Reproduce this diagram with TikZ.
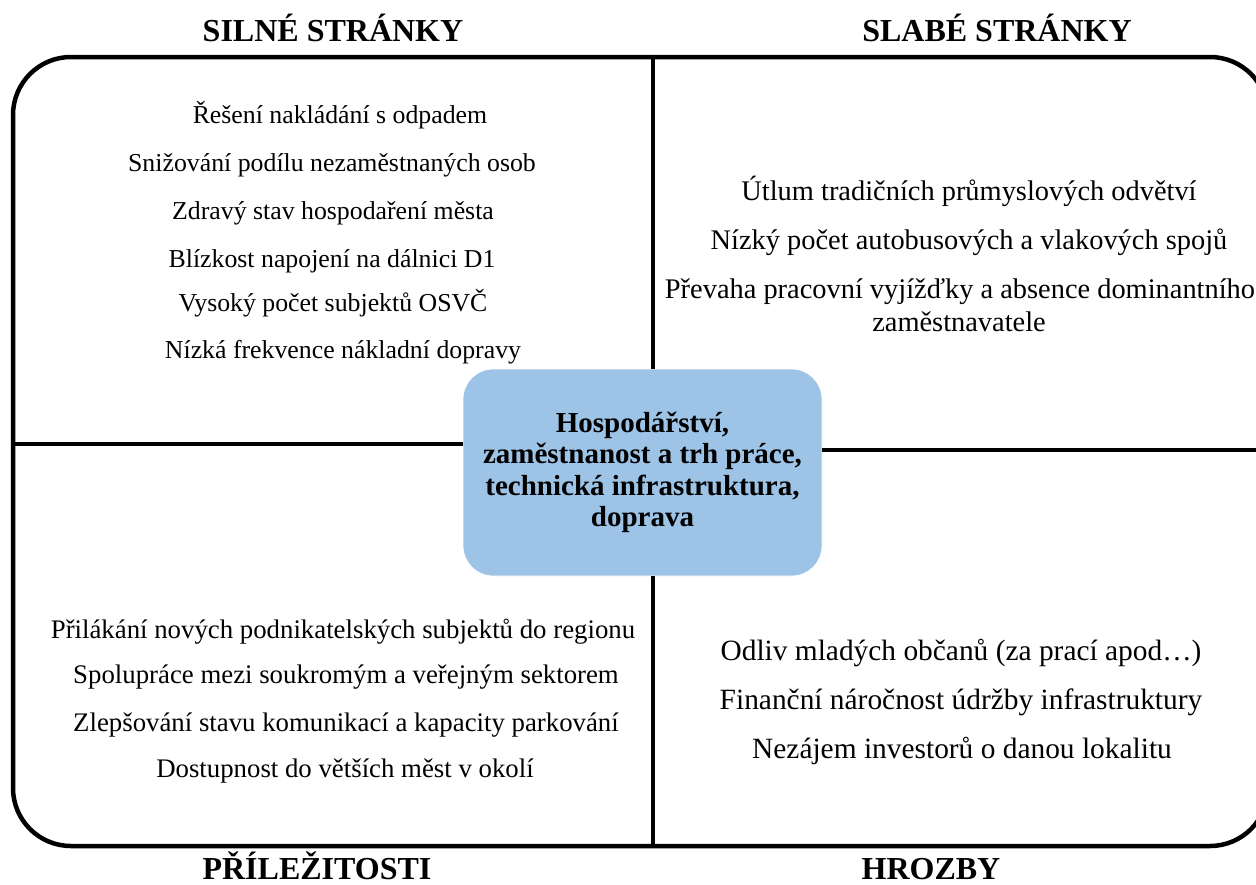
\documentclass[tikz,border=0pt]{standalone}
\usepackage{fontspec}
\setmainfont{Liberation Serif}
\tikzset{
  frame/.style={line width=4.5pt, rounded corners=58pt},
  divider/.style={line width=3.5pt},
  core/.style={fill=boxblue, draw=white, line width=0.8pt, rounded corners=30pt,
    minimum width=359pt, minimum height=207pt, align=center,
    font=\fontsize{29}{31.5}\selectfont\bfseries, inner sep=0pt},
  item/.style={anchor=base, inner sep=0pt, align=center},
  itemTL/.style={item, font=\fontsize{25.8}{30}\selectfont},
  itemTR/.style={item, font=\fontsize{28.4}{33}\selectfont},
  itemBL/.style={item, font=\fontsize{26.8}{31}\selectfont},
  itemBR/.style={item, font=\fontsize{29.4}{34}\selectfont},
  head/.style={anchor=base, inner sep=0pt, font=\fontsize{32}{36}\selectfont\bfseries},
}
\definecolor{boxblue}{HTML}{9DC3E6}
\begin{document}
\begin{tikzpicture}[x=1pt,y=-1pt]
\useasboundingbox (0,0) rectangle (1256,884);
\clip (0,0) rectangle (1256,884);
\fill[white] (0,0) rectangle (1256,884);
% outer frame
\draw[frame] (13,57) rectangle (1268,846);
% edge coordinates
\coordinate (ntop) at (653,57);
\coordinate (nbot) at (653,846);
\coordinate (wleft) at (13,444);
\coordinate (eright) at (1268,450);
% central box
\node[core] (hub) at (642.5,472.5) {Hospodářství,\\zaměstnanost a trh práce,\\technická infrastruktura,\\doprava};
\draw[divider] (ntop) -- (ntop |- hub.north);
\draw[divider] (nbot |- hub.south) -- (nbot);
\draw[divider] (wleft) -- (wleft -| hub.west);
\draw[divider] (eright -| hub.east) -- (eright);
% headings
\node[head] (hs) at (333,41) {SILNÉ STRÁNKY};
\node[head] (hw) at (997,41) {SLABÉ STRÁNKY};
\node[head] (ho) at (317,879) {PŘÍLEŽITOSTI};
\node[head] (ht) at (931,879) {HROZBY};
% strengths
\node[itemTL] (s1) at (340,123) {Řešení nakládání s odpadem};
\node[itemTL] (s2) at (332,171) {Snižování podílu nezaměstnaných osob};
\node[itemTL] (s3) at (333,219) {Zdravý stav hospodaření města};
\node[itemTL] (s4) at (332,267) {Blízkost napojení na dálnici D1};
\node[itemTL] (s5) at (333,311) {Vysoký počet subjektů OSVČ};
\node[itemTL] (s6) at (343,358) {Nízká frekvence nákladní dopravy};
% weaknesses
\node[itemTR] (w1) at (969,200) {Útlum tradičních průmyslových odvětví};
\node[itemTR] (w2) at (969,249) {Nízký počet autobusových a vlakových spojů};
\node[itemTR] (w3) at (960,298) {Převaha pracovní vyjížďky a absence dominantního};
\node[itemTR] (w4) at (959,331) {zaměstnavatele};
% opportunities
\node[itemBL] (o1) at (343,638) {Přilákání nových podnikatelských subjektů do regionu};
\node[itemBL] (o2) at (346,683) {Spolupráce mezi soukromým a veřejným sektorem};
\node[itemBL] (o3) at (346,731) {Zlepšování stavu komunikací a kapacity parkování};
\node[itemBL] (o4) at (345,777) {Dostupnost do větších měst v okolí};
% threats
\node[itemBR] (t1) at (961,660) {Odliv mladých občanů (za prací apod…)};
\node[itemBR] (t2) at (961,709) {Finanční náročnost údržby infrastruktury};
\node[itemBR] (t3) at (962,758) {Nezájem investorů o danou lokalitu};
\end{tikzpicture}
\end{document}
